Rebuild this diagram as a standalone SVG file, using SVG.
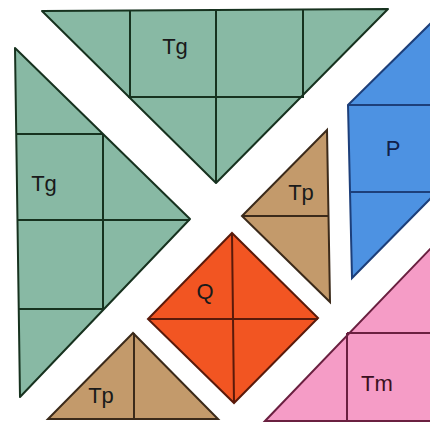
<svg xmlns="http://www.w3.org/2000/svg" width="430" height="423" viewBox="0 0 430 423">
<style>
.g{fill:#88b9a4;stroke:#17321f;stroke-width:2;stroke-linejoin:round}
.gl{stroke:#17321f;stroke-width:2;fill:none}
.b{fill:#4d92e2;stroke:#1d3f7a;stroke-width:2}
.bl{stroke:#1d3f7a;stroke-width:2;fill:none}
.t{fill:#c39a6b;stroke:#3b2a1a;stroke-width:2}
.tl{stroke:#3b2a1a;stroke-width:2;fill:none}
.q{fill:#f25522;stroke:#5a1a0a;stroke-width:2}
.ql{stroke:#5a1a0a;stroke-width:2;fill:none}
.p{fill:#f59cc6;stroke:#6a2040;stroke-width:2}
.pl{stroke:#6a2040;stroke-width:2;fill:none}
text{font-family:"Liberation Sans",Arial,sans-serif;font-size:22px;fill:#1a1a1a;text-anchor:middle}
</style>
<rect width="430" height="423" fill="#ffffff"/>
<g id="tg-top">
<polygon class="g" points="42,11 388,9 216,183"/>
<path class="gl" d="M130,11V97M216,10V183M303,9V97M128,97H304"/>
<text x="175" y="54">Tg</text>
</g>
<g id="tg-left">
<polygon class="g" points="15,48 190,219 20,397"/>
<path class="gl" d="M16,134H103M103,134V309M17,220H190M19,309H104"/>
<text x="44" y="191">Tg</text>
</g>
<g id="p">
<polygon class="b" points="348,105 432,22 432,197 352,278"/>
<path class="bl" d="M348,105H432M350,192H432"/>
<text x="393" y="156" style="fill:#10204a">P</text>
</g>
<g id="tp-right">
<polygon class="t" points="327,130 242,216 330,302"/>
<path class="tl" d="M242,216H329"/>
<text x="301" y="200">Tp</text>
</g>
<g id="q">
<polygon class="q" points="232,233 318,318 234,403 148,319"/>
<path class="ql" d="M148,319H318M232,233L234,403"/>
<text x="205" y="299">Q</text>
</g>
<g id="tp-bottom">
<polygon class="t" points="133,333 48,419 218,419"/>
<path class="tl" d="M134,333V419"/>
<text x="101" y="403">Tp</text>
</g>
<g id="tm">
<polygon class="p" points="265,421 432,247 432,421"/>
<path class="pl" d="M347,333H432M347,333V421"/>
<text x="377" y="391" style="fill:#3a1020">Tm</text>
</g>
<g id="connectors"></g>
</svg>
